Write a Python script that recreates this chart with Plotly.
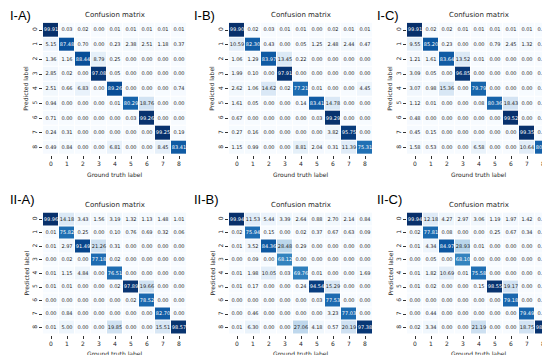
import plotly.graph_objects as go

labels = ["0", "1", "2", "3", "4", "5", "6", "7", "8"]

cm_IA = [
    [99.91, 0.03, 0.02, 0.00, 0.01, 0.01, 0.01, 0.01, 0.01],
    [5.15, 87.48, 0.70, 0.00, 0.23, 2.38, 2.51, 1.18, 0.37],
    [1.36, 1.16, 88.44, 8.79, 0.25, 0.00, 0.00, 0.00, 0.00],
    [2.85, 0.02, 0.00, 97.08, 0.05, 0.00, 0.00, 0.00, 0.00],
    [2.51, 0.66, 6.83, 0.00, 89.26, 0.00, 0.00, 0.00, 0.74],
    [0.94, 0.00, 0.00, 0.00, 0.01, 80.29, 18.76, 0.00, 0.00],
    [0.71, 0.00, 0.00, 0.00, 0.00, 0.03, 99.26, 0.00, 0.00],
    [0.24, 0.31, 0.00, 0.00, 0.00, 0.00, 0.00, 99.25, 0.19],
    [0.49, 0.84, 0.00, 0.00, 6.81, 0.00, 0.00, 8.45, 83.41],
]
cm_IB = [
    [99.90, 0.02, 0.03, 0.01, 0.01, 0.00, 0.02, 0.01, 0.01],
    [10.59, 82.30, 0.43, 0.00, 0.05, 1.25, 2.48, 2.44, 0.47],
    [1.06, 1.29, 83.97, 13.45, 0.22, 0.00, 0.00, 0.00, 0.00],
    [1.99, 0.10, 0.00, 97.91, 0.00, 0.00, 0.00, 0.00, 0.00],
    [2.62, 1.06, 14.62, 0.02, 77.21, 0.01, 0.00, 0.00, 4.45],
    [1.61, 0.05, 0.00, 0.00, 0.14, 83.41, 14.78, 0.00, 0.00],
    [0.67, 0.00, 0.00, 0.00, 0.00, 0.03, 99.29, 0.00, 0.00],
    [0.27, 0.16, 0.00, 0.00, 0.00, 0.00, 3.82, 95.75, 0.00],
    [1.15, 0.99, 0.00, 0.00, 8.81, 2.04, 0.31, 11.39, 75.31],
]
cm_IC = [
    [99.91, 0.02, 0.02, 0.01, 0.01, 0.01, 0.01, 0.01, 0.01],
    [9.55, 85.20, 0.23, 0.00, 0.00, 0.79, 2.45, 1.32, 0.47],
    [1.21, 1.61, 83.64, 13.52, 0.01, 0.00, 0.00, 0.00, 0.00],
    [3.09, 0.05, 0.00, 96.85, 0.00, 0.00, 0.00, 0.00, 0.00],
    [3.07, 0.98, 15.36, 0.00, 79.79, 0.00, 0.00, 0.00, 0.80],
    [1.12, 0.01, 0.00, 0.00, 0.08, 80.36, 18.43, 0.00, 0.00],
    [0.48, 0.00, 0.00, 0.00, 0.00, 0.00, 99.52, 0.00, 0.00],
    [0.45, 0.15, 0.00, 0.00, 0.00, 0.00, 0.00, 99.35, 0.04],
    [1.58, 0.53, 0.00, 0.00, 6.58, 0.00, 0.00, 10.64, 80.67],
]
cm_IIA = [
    [99.96, 14.18, 3.43, 1.56, 3.19, 1.32, 1.13, 1.48, 1.01],
    [0.01, 75.82, 0.25, 0.00, 0.10, 0.76, 0.69, 0.32, 0.06],
    [0.01, 2.97, 91.49, 21.26, 0.31, 0.00, 0.00, 0.00, 0.00],
    [0.00, 0.02, 0.00, 77.18, 0.02, 0.00, 0.00, 0.00, 0.00],
    [0.01, 1.15, 4.84, 0.00, 76.51, 0.00, 0.00, 0.00, 0.00],
    [0.01, 0.01, 0.00, 0.00, 0.02, 97.89, 19.66, 0.00, 0.00],
    [0.00, 0.00, 0.00, 0.00, 0.00, 0.02, 78.52, 0.00, 0.00],
    [0.00, 0.84, 0.00, 0.00, 0.00, 0.00, 0.00, 82.70, 0.00],
    [0.01, 5.00, 0.00, 0.00, 19.85, 0.00, 0.00, 15.51, 98.57],
]
cm_IIB = [
    [99.94, 11.53, 5.44, 3.39, 2.64, 0.88, 2.70, 2.14, 0.84],
    [0.02, 75.94, 0.15, 0.00, 0.02, 0.37, 0.67, 0.63, 0.09],
    [0.01, 3.52, 84.36, 28.48, 0.29, 0.00, 0.00, 0.00, 0.00],
    [0.00, 0.09, 0.00, 68.12, 0.00, 0.00, 0.00, 0.00, 0.00],
    [0.01, 1.98, 10.05, 0.03, 69.76, 0.01, 0.00, 0.00, 1.69],
    [0.01, 0.17, 0.00, 0.00, 0.24, 94.54, 15.29, 0.00, 0.00],
    [0.00, 0.00, 0.00, 0.00, 0.00, 0.03, 77.53, 0.00, 0.00],
    [0.00, 0.46, 0.00, 0.00, 0.00, 0.00, 3.23, 77.03, 0.00],
    [0.01, 6.30, 0.00, 0.00, 27.06, 4.18, 0.57, 20.19, 97.38],
]
cm_IIC = [
    [99.94, 12.18, 4.27, 2.97, 3.06, 1.19, 1.97, 1.42, 0.72],
    [0.02, 77.81, 0.08, 0.00, 0.00, 0.25, 0.67, 0.34, 0.08],
    [0.01, 4.34, 84.97, 28.93, 0.01, 0.00, 0.00, 0.00, 0.00],
    [0.00, 0.05, 0.00, 68.10, 0.00, 0.00, 0.00, 0.00, 0.00],
    [0.01, 1.82, 10.69, 0.01, 75.58, 0.00, 0.00, 0.00, 0.20],
    [0.01, 0.02, 0.00, 0.00, 0.15, 98.55, 19.17, 0.00, 0.00],
    [0.00, 0.00, 0.00, 0.00, 0.00, 0.00, 79.18, 0.00, 0.00],
    [0.00, 0.44, 0.00, 0.00, 0.00, 0.00, 0.00, 79.49, 0.00],
    [0.02, 3.34, 0.00, 0.00, 21.19, 0.00, 0.00, 18.75, 98.99],
]

panel_names = ["I-A)", "I-B)", "I-C)", "II-A)", "II-B)", "II-C)"]
matrices = [cm_IA, cm_IB, cm_IC, cm_IIA, cm_IIB, cm_IIC]

W, H = 550, 355
FONT = "DejaVu Sans"
xcols = [(35.0, 179.0), (221.0, 365.0), (399.0, 543.0)]
yrows = [(14.65, 147.05), (204.5, 326.5)]
label_x = [0, 184, 367]
label_y = [8, 192]

blues = [[0.0, "#f7fbff"], [0.125, "#deebf7"], [0.25, "#c6dbef"], [0.375, "#9ecae1"],
         [0.5, "#6baed6"], [0.625, "#4292c6"], [0.75, "#2171b5"], [0.875, "#08519c"],
         [1.0, "#08306b"]]

def px(x):
    return x / W

def py(y):
    return 1 - y / H

fig = go.Figure()
annotations = []
layout_axes = {}

for i, (name, cm) in enumerate(zip(panel_names, matrices)):
    r, c = divmod(i, 3)
    n = i + 1
    xa = "x" if n == 1 else f"x{n}"
    ya = "y" if n == 1 else f"y{n}"
    zmax = max(max(row) for row in cm)
    fig.add_trace(go.Heatmap(
        z=cm, x=labels, y=labels, colorscale=blues, zmin=0, zmax=zmax,
        showscale=False, xgap=1, ygap=1, hoverinfo="skip",
        xaxis=xa, yaxis=ya,
    ))
    tx, ty, tt, tc = [], [], [], []
    for ri, row in enumerate(cm):
        for ci, v in enumerate(row):
            tx.append(labels[ci])
            ty.append(labels[ri])
            tt.append(f"{v:.2f}")
            tc.append("white" if v / zmax > 0.5 else "#262626")
    fig.add_trace(go.Scatter(
        x=tx, y=ty, text=tt, mode="text", textposition="middle center",
        textfont=dict(family=FONT, size=5, color=tc), hoverinfo="skip",
        showlegend=False, xaxis=xa, yaxis=ya, cliponaxis=False,
    ))
    x0, x1 = xcols[c]
    y0, y1 = yrows[r]
    xkey = "xaxis" if n == 1 else f"xaxis{n}"
    ykey = "yaxis" if n == 1 else f"yaxis{n}"
    layout_axes[xkey] = dict(
        domain=[px(x0), px(x1)], anchor=ya, type="category",
        categoryorder="array", categoryarray=labels, range=[-0.5, 8.5],
        showgrid=False, zeroline=False, showline=False,
        ticks="outside", ticklen=3, tickwidth=0.6, tickcolor="#333",
        tickfont=dict(family=FONT, size=6, color="#262626"),
    )
    layout_axes[ykey] = dict(
        domain=[py(y1), py(y0)], anchor=xa, type="category",
        categoryorder="array", categoryarray=labels, range=[8.5, -0.5],
        showgrid=False, zeroline=False, showline=False,
        ticks="outside", ticklen=3, tickwidth=0.6, tickcolor="#333",
        tickangle=-90,
        tickfont=dict(family=FONT, size=6, color="#262626"),
    )
    annotations.append(dict(
        text="Confusion matrix", x=px((x0 + x1) / 2), y=py(y0 - 7.5),
        xref="paper", yref="paper", showarrow=False, xanchor="center", yanchor="middle",
        font=dict(family=FONT, size=7, color="#262626"),
    ))
    annotations.append(dict(
        text="Ground truth label", x=px((x0 + x1) / 2), y=py(y1 + 19),
        xref="paper", yref="paper", showarrow=False, xanchor="center", yanchor="middle",
        font=dict(family=FONT, size=6, color="#262626"),
    ))
    annotations.append(dict(
        text="Predicted label", x=px(x0 - 17), y=py((y0 + y1) / 2),
        xref="paper", yref="paper", showarrow=False, xanchor="center", yanchor="middle",
        textangle=-90, font=dict(family=FONT, size=6, color="#262626"),
    ))
    annotations.append(dict(
        text=name, x=px(label_x[c]), y=py(label_y[r]),
        xref="paper", yref="paper", showarrow=False, xanchor="left", yanchor="middle",
        font=dict(family="Liberation Sans", size=13, color="black"),
    ))

fig.update_layout(
    width=W, height=H, margin=dict(l=0, r=0, t=0, b=0),
    paper_bgcolor="white", plot_bgcolor="white",
    showlegend=False, annotations=annotations, **layout_axes,
)

fig.write_html("out.html")
